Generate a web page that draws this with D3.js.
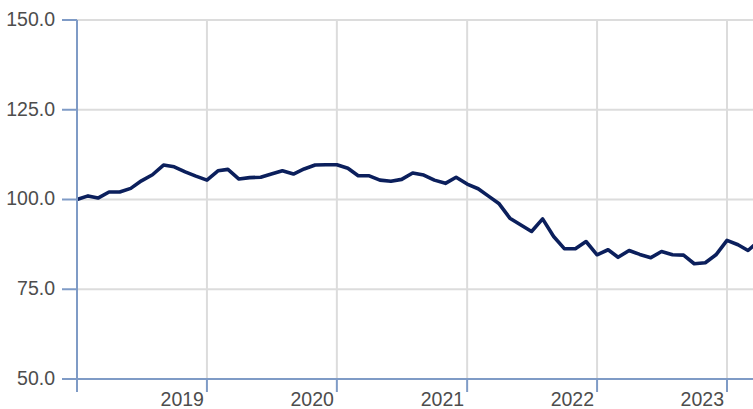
<!DOCTYPE html>
<html>
<head>
<meta charset="utf-8">
<script src="https://cdn.jsdelivr.net/npm/d3@7"></script>
<style>
  body { margin: 0; background: #fff; }
  text { font-family: "Liberation Sans", Arial, sans-serif; }
</style>
</head>
<body>
<svg id="chart" width="753" height="409"></svg>
<script>
// monthly index, Jan 2018 .. Apr 2023
const startMonth = '2018-01';
const values = [
  100.0, 101.0, 100.4, 102.1, 102.1, 103.1, 105.2, 106.9, 109.6, 109.1, 107.7, 106.5,
  105.4, 108.0, 108.4, 105.7, 106.1, 106.2, 107.1, 108.0, 107.1, 108.5, 109.6, 109.7,
  109.7, 108.7, 106.6, 106.6, 105.4, 105.1, 105.6, 107.4, 106.8, 105.4, 104.5, 106.2,
  104.3, 103.0, 101.0, 98.8, 94.8, 92.9, 91.1, 94.6, 89.7, 86.3, 86.3, 88.3,
  84.6, 86.0, 83.9, 85.8, 84.7, 83.8, 85.5, 84.6, 84.5, 82.1, 82.4, 84.6,
  88.6, 87.4, 85.8, 88.5
];
const yTicks = [50, 75, 100, 125, 150];
const yearTicks = ['2018', '2019', '2020', '2021', '2022', '2023'];

const width = 753;
const height = 409;
const margin = {top: 20, bottom: 29, left: 77, right: 0};

const parseMonth = d3.timeParse('%Y-%m');
const parseYear = d3.timeParse('%Y');
const t0 = parseMonth(startMonth);
const data = values.map((v, i) => ({date: d3.timeMonth.offset(t0, i), value: v}));
const yearDates = yearTicks.map(parseYear);

const svg = d3.select('#chart');

const x = d3.scaleTime()
    .domain([parseYear('2018'), parseYear('2023')])
    .range([margin.left, 727]);

const y = d3.scaleLinear()
    .domain([50, 150])
    .range([height - margin.bottom - 1, margin.top]);

// grid
svg.append('g')
    .attr('transform', `translate(0, ${y(50)})`)
    .call(d3.axisBottom(x).tickValues(yearDates.slice(1)).tickSize(-(y(50) - y(150))).tickFormat('').offset(0))
    .call(g => g.select('.domain').remove())
    .call(g => g.selectAll('line').attr('stroke', '#dcdcdc').attr('stroke-width', 2));

svg.append('g')
    .attr('transform', `translate(${margin.left}, 0)`)
    .call(d3.axisRight(y).tickValues(yTicks.slice(1)).tickSize(width - margin.left).tickFormat('').offset(0))
    .call(g => g.select('.domain').remove())
    .call(g => g.selectAll('line').attr('stroke', '#dcdcdc').attr('stroke-width', 2));

// line
const line = d3.line()
    .x(d => x(d.date))
    .y(d => y(d.value));

svg.append('path')
    .datum(data)
    .attr('fill', 'none')
    .attr('stroke', '#0b1f5c')
    .attr('stroke-width', 3.6)
    .attr('stroke-linejoin', 'round')
    .attr('d', line);

// axes
const axisColor = '#7f9bc6';

svg.append('g')
    .attr('transform', `translate(0, ${y(50)})`)
    .call(d3.axisBottom(x).tickValues(yearDates).tickSize(13).tickSizeOuter(0).offset(0)
        .tickFormat(d => d.getFullYear() === 2018 ? '' : d3.timeFormat('%Y')(d)))
    .call(g => g.select('.domain').attr('stroke', axisColor).attr('stroke-width', 2)
        .attr('d', `M${margin.left - 15},0H${width}`))
    .call(g => g.selectAll('line').attr('stroke', axisColor).attr('stroke-width', 2))
    .call(g => g.selectAll('text')
        .attr('text-anchor', 'end')
        .attr('x', -3)
        .attr('y', 27)
        .attr('dy', 0)
        .attr('fill', '#4d4d4d')
        .attr('font-size', 19.5));

svg.append('g')
    .attr('transform', `translate(${margin.left}, 0)`)
    .call(d3.axisLeft(y).tickValues(yTicks).tickSize(15).tickSizeOuter(0).offset(0)
        .tickFormat(d3.format('.1f')).tickPadding(7))
    .call(g => g.select('.domain').attr('stroke', axisColor).attr('stroke-width', 2)
        .attr('d', `M0,${y(150)}V${y(50) + 13}`))
    .call(g => g.selectAll('line').attr('stroke', axisColor).attr('stroke-width', 2))
    .call(g => g.selectAll('text')
        .attr('fill', '#4d4d4d')
        .attr('font-size', 19.5)
        .attr('dy', '0.3em'));
</script>
</body>
</html>
